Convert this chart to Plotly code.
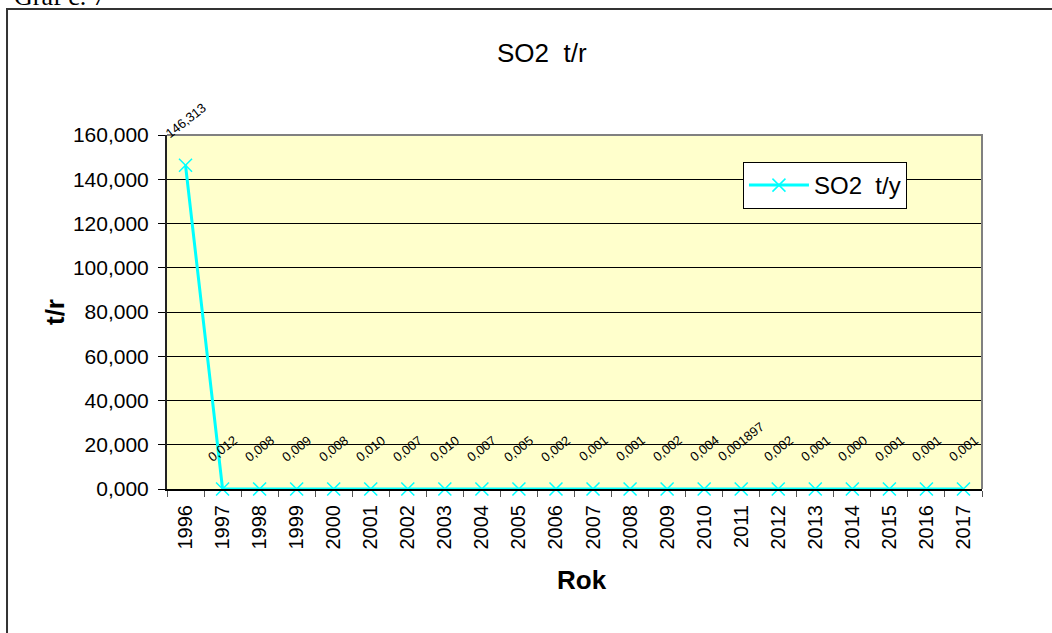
import plotly.graph_objects as go

years = [str(y) for y in range(1996, 2018)]
so2 = [146.313, 0.012, 0.008, 0.009, 0.008, 0.010, 0.007, 0.010, 0.007, 0.005, 0.002,
       0.001, 0.001, 0.002, 0.004, 0.001897, 0.002, 0.001, 0.000, 0.001, 0.001, 0.001]
labels = ["146,313", "0,012", "0,008", "0,009", "0,008", "0,010", "0,007", "0,010", "0,007",
          "0,005", "0,002", "0,001", "0,001", "0,002", "0,004", "0,001897", "0,002", "0,001",
          "0,000", "0,001", "0,001", "0,001"]

CYAN = "#00FFFF"
FONT = "Liberation Sans, Arial, sans-serif"

fig = go.Figure(go.Scatter(
    x=years, y=so2, mode="lines+markers", name="SO2  t/y",
    line=dict(color=CYAN, width=3),
    marker=dict(symbol="x-thin", size=13, color=CYAN, line=dict(width=1.5, color=CYAN)),
    cliponaxis=False,
))

# data labels, rotated like the original (category axis -> use index)
for i, (v, t) in enumerate(zip(so2, labels)):
    fig.add_annotation(x=i, y=v, text=t, showarrow=False, textangle=-38,
                       xanchor="center", yanchor="bottom", yshift=22,
                       font=dict(size=13, color="black", family=FONT))

# title, axis titles and caption
fig.add_annotation(x=0.46, y=1.2316, xref="paper", yref="paper", text="SO2  t/r",
                   xanchor="center", yanchor="middle",
                   showarrow=False, font=dict(size=26, family=FONT, color="black"))
fig.add_annotation(x=-0.1374, y=0.5, xref="paper", yref="paper", text="<b>t/r</b>",
                   xanchor="center", yanchor="middle",
                   textangle=-90, showarrow=False, font=dict(size=26, family=FONT, color="black"))
fig.add_annotation(x=0.509, y=-0.257, xref="paper", yref="paper", text="<b>Rok</b>",
                   xanchor="center", yanchor="middle",
                   showarrow=False, font=dict(size=26, family=FONT, color="black"))
fig.add_annotation(x=-0.19, y=1.3446, xref="paper", yref="paper", text="Graf č. 7",
                   xanchor="left", yanchor="bottom", showarrow=False,
                   font=dict(size=26, family="Liberation Serif, Times New Roman, serif", color="black"))

# outer chart frame and plot-area border (top/right)
fig.add_shape(type="rect", xref="paper", yref="paper", x0=-0.1963, x1=1.0957, y0=-0.4407, y1=1.356,
              line=dict(color="#333333", width=2))
fig.add_shape(type="path", xref="paper", yref="paper", path="M 0,1 L 1,1 L 1,0",
              line=dict(color="#808080", width=2))

fig.update_xaxes(type="category", range=[-0.5, 21.5], tickson="boundaries",
                 ticks="outside", ticklen=6, tickcolor="#555", tickangle=-90,
                 ticklabelstandoff=6,
                 showline=True, linecolor="black", linewidth=2, showgrid=False,
                 tickfont=dict(size=20, family=FONT, color="black"))
fig.update_yaxes(range=[0, 160], dtick=20, tickformat=".3f", ticks="outside", ticklen=7,
                 tickcolor="black", ticklabelstandoff=5,
                 showline=True, linecolor="#222", linewidth=2,
                 showgrid=True, gridcolor="black", gridwidth=1, zeroline=False,
                 tickfont=dict(size=21, family=FONT, color="black"))

fig.update_layout(
    width=1052, height=633,
    margin=dict(l=167, r=70, t=135, b=144),
    separators=",.",
    paper_bgcolor="white", plot_bgcolor="#FFFFCC",
    showlegend=True,
    legend=dict(x=0.7067, y=0.9237, xanchor="left", yanchor="top",
                bgcolor="white", bordercolor="black", borderwidth=1, itemwidth=60,
                font=dict(size=24, family=FONT, color="black")),
)

fig.write_html("out.html", config={"displayModeBar": False},
               post_script="document.body.style.margin='0';")
